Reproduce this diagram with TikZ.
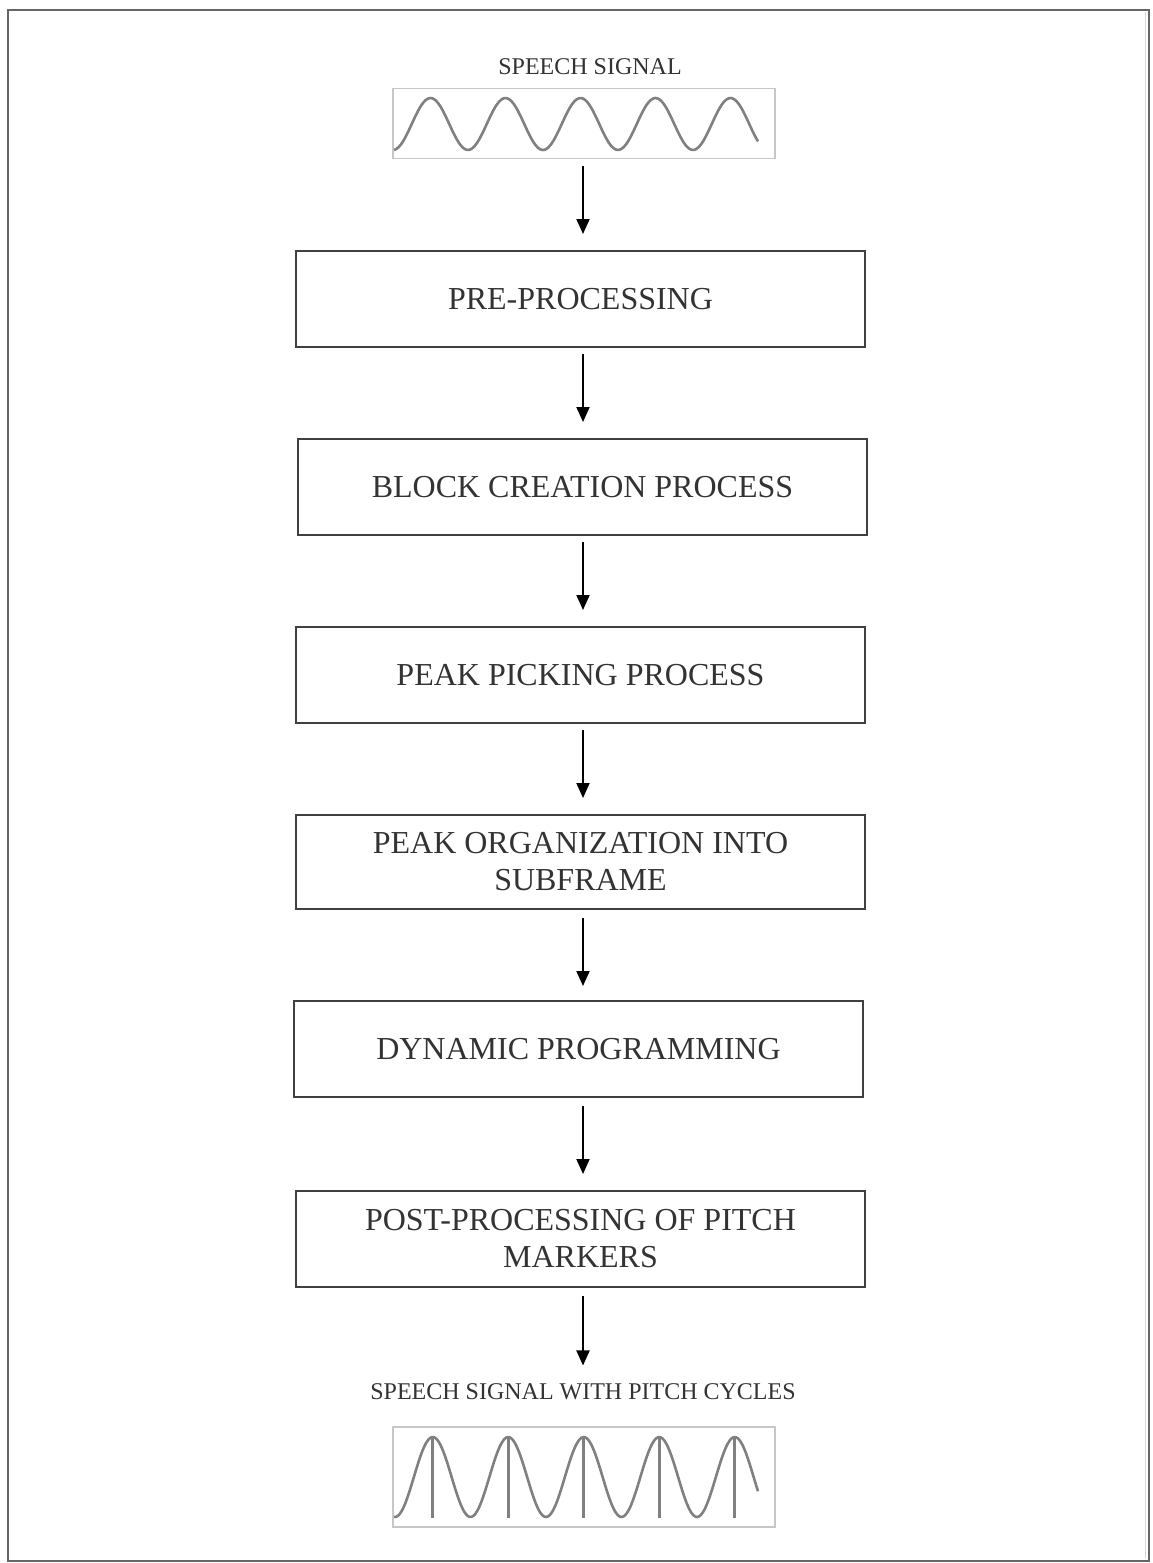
\documentclass[tikz,border=0pt]{standalone}
\usepackage{fontspec}
\setmainfont{Liberation Serif}
\usetikzlibrary{arrows.meta}
\begin{document}
\begin{tikzpicture}[x=0.5pt,y=-0.5pt,
  stepbox/.style={draw=black!75,line width=1pt,minimum width=284.5pt,minimum height=48pt,inner sep=0pt,
    font=\fontsize{16}{18.5}\selectfont,text=black!80,align=center},
  sigbox/.style={draw=black!22,line width=0.6pt,minimum width=191pt,inner sep=0pt},
  lbl/.style={font=\fontsize{12}{14}\selectfont,text=black!80,inner sep=0pt},
  wave/.style={draw=black!50,line width=1.3pt,line join=round},
  arr/.style={-{Triangle[length=7.5pt,width=6.5pt]},line width=1pt,black}]
\useasboundingbox (0,0) rectangle (1152,1563);
\fill[white] (0,0) rectangle (1152,1563);
\draw[black!60,line width=0.7pt] (8,10) rectangle (1149,1561);
\draw[black!15,line width=0.5pt] (1145,12) -- (1145,1558);
% top signal
\node[lbl] (lbl1) at (590,67) {SPEECH SIGNAL};
\node[sigbox,minimum height=35pt] (sig1) at (584,123.5) {};
\draw[wave] plot[domain=394:758,samples=150,smooth] (\x,{124+26*cos(4.8*(\x-393))});
% boxes
\node[stepbox] (b1) at (580.5,299) {PRE-PROCESSING};
\node[stepbox] (b2) at (582.5,487) {BLOCK CREATION PROCESS};
\node[stepbox] (b3) at (580.5,675) {PEAK PICKING PROCESS};
\node[stepbox,minimum height=47pt] (b4) at (580.5,862) {PEAK ORGANIZATION INTO\\SUBFRAME};
\node[stepbox] (b5) at (578.5,1049) {DYNAMIC PROGRAMMING};
\node[stepbox] (b6) at (580.5,1239) {POST-PROCESSING OF PITCH\\MARKERS};
% bottom signal
\node[lbl] (lbl2) at (583,1392) {SPEECH SIGNAL WITH PITCH CYCLES};
\node[sigbox,minimum height=50pt] (sig2) at (584,1477) {};
\draw[wave] plot[domain=394:758,samples=180,smooth] (\x,{1477+40*cos(4.76821*(\x-395))});
\foreach \k in {0,...,4}{
  \draw[black!50,line width=1.3pt] ({432.75+75.5*\k},1437) -- ({432.75+75.5*\k},1518);
}
% arrows
\coordinate (ax) at (583,0);
\draw[arr,shorten <=3.5pt,shorten >=8pt] (sig1.south -| ax) -- (b1.north -| ax);
\draw[arr,shorten <=3pt,shorten >=8pt] (b1.south -| ax) -- (b2.north -| ax);
\draw[arr,shorten <=3pt,shorten >=8pt] (b2.south -| ax) -- (b3.north -| ax);
\draw[arr,shorten <=3pt,shorten >=8pt] (b3.south -| ax) -- (b4.north -| ax);
\draw[arr,shorten <=4pt,shorten >=7pt] (b4.south -| ax) -- (b5.north -| ax);
\draw[arr,shorten <=4pt,shorten >=8pt] (b5.south -| ax) -- (b6.north -| ax);
\draw[arr,shorten <=4pt,shorten >=9pt] (b6.south -| ax) -- (lbl2.north -| ax);
\end{tikzpicture}
\end{document}
